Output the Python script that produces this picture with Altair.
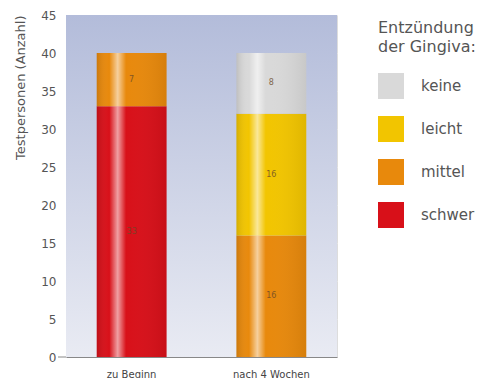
import altair as alt
import pandas as pd

times = ["zu Beginn", "zu Beginn", "nach 4 Wochen", "nach 4 Wochen", "nach 4 Wochen"]
levels = ["schwer", "mittel", "mittel", "leicht", "keine"]
counts = [33, 7, 16, 16, 8]
stack_rank = [0, 1, 1, 2, 3]

legend_order = ["keine", "leicht", "mittel", "schwer"]
legend_colors = ["#d9d9d9", "#f2c500", "#e8890c", "#d81019"]
x_order = ["zu Beginn", "nach 4 Wochen"]
y_ticks = [0, 5, 10, 15, 20, 25, 30, 35, 40, 45]

df = pd.DataFrame({"Zeit": times, "Stufe": levels, "Anzahl": counts, "rank": stack_rank})

W, H = 271, 342
FONT = "DejaVu Sans"

bg = alt.Chart(pd.DataFrame({"a": [0]})).mark_rect(
    fill=alt.Gradient(
        gradient="linear", x1=0, x2=0, y1=0, y2=1,
        stops=[alt.GradientStop(offset=0, color="#b3bcda"),
               alt.GradientStop(offset=1, color="#e9ebf3")],
    )
).encode(x=alt.value(0), x2=alt.value(W), y=alt.value(0), y2=alt.value(H))

zero_tick = alt.Chart(pd.DataFrame({"a": [0]})).mark_rule(color="#888", strokeWidth=1).encode(
    x=alt.value(-8), x2=alt.value(0), y=alt.value(H)
)

base = alt.Chart(df).transform_stack(
    stack="Anzahl", groupby=["Zeit"], as_=["y0", "y1"], sort=[alt.SortField("rank")]
).transform_calculate(mid="(datum.y0 + datum.y1) / 2")

xscale = alt.Scale(paddingInner=0.5, paddingOuter=0.22)
yscale = alt.Scale(domain=[0, 45], nice=False)
xaxis = alt.Axis(labelAngle=0, ticks=False, domain=True, domainColor="#888",
                 labelFont=FONT, labelFontSize=10, labelColor="#444", labelPadding=12)
yaxis = alt.Axis(values=y_ticks, ticks=False, domain=False, labelOverlap=False,
                 grid=True, gridColor="white", gridOpacity=0.45,
                 labelFont=FONT, labelFontSize=12, labelColor="#555",
                 labelPadding=10, titleFont=FONT, titleFontSize=13,
                 titleFontWeight="normal", titleColor="#555",
                 titleAnchor="end", titlePadding=13)
YT = "Testpersonen (Anzahl)"


def xenc():
    return alt.X("Zeit:N", sort=x_order, title=None, scale=xscale, axis=xaxis)


def yenc(field):
    return alt.Y(field, scale=yscale, title=YT, axis=yaxis)


bars = base.mark_bar().encode(
    x=xenc(),
    y=yenc("y0:Q"),
    y2="y1:Q",
    color=alt.Color("Stufe:N",
                    scale=alt.Scale(domain=legend_order, range=legend_colors),
                    legend=alt.Legend(title=["Entzündung", "der Gingiva:"],
                                      orient="none", legendX=312, legendY=5,
                                      symbolType="square", symbolSize=676,
                                      symbolStrokeWidth=0, symbolOpacity=1,
                                      titleFont=FONT, titleFontSize=16,
                                      titleFontWeight="normal", titleColor="#555",
                                      titleLineHeight=19, titlePadding=18,
                                      labelFont=FONT, labelFontSize=15,
                                      labelColor="#555", labelOffset=17,
                                      rowPadding=17)),
)

shine = base.mark_bar(
    fill=alt.Gradient(
        gradient="linear", x1=0, x2=1, y1=0, y2=0,
        stops=[alt.GradientStop(offset=0, color="rgba(0,0,0,0.12)"),
               alt.GradientStop(offset=0.18, color="rgba(255,255,255,0)"),
               alt.GradientStop(offset=0.3, color="rgba(255,255,255,0.6)"),
               alt.GradientStop(offset=0.42, color="rgba(255,255,255,0)"),
               alt.GradientStop(offset=1, color="rgba(0,0,0,0.08)")],
    )
).encode(x=xenc(), y=yenc("y0:Q"), y2="y1:Q")

labels = base.mark_text(font=FONT, fontSize=8, color="#6a4a2a", opacity=0.8).encode(
    x=xenc(), y=yenc("mid:Q"), text="Anzahl:Q"
)

chart = alt.layer(bg, bars, shine, labels, zero_tick).properties(
    width=W, height=H,
    autosize=alt.AutoSizeParams(type="none"),
    padding={"left": 58, "top": 7, "right": 144, "bottom": 21},
).configure_view(stroke=None).configure(background="white")

chart.save("out.html", embed_options={"renderer": "svg", "actions": False})
